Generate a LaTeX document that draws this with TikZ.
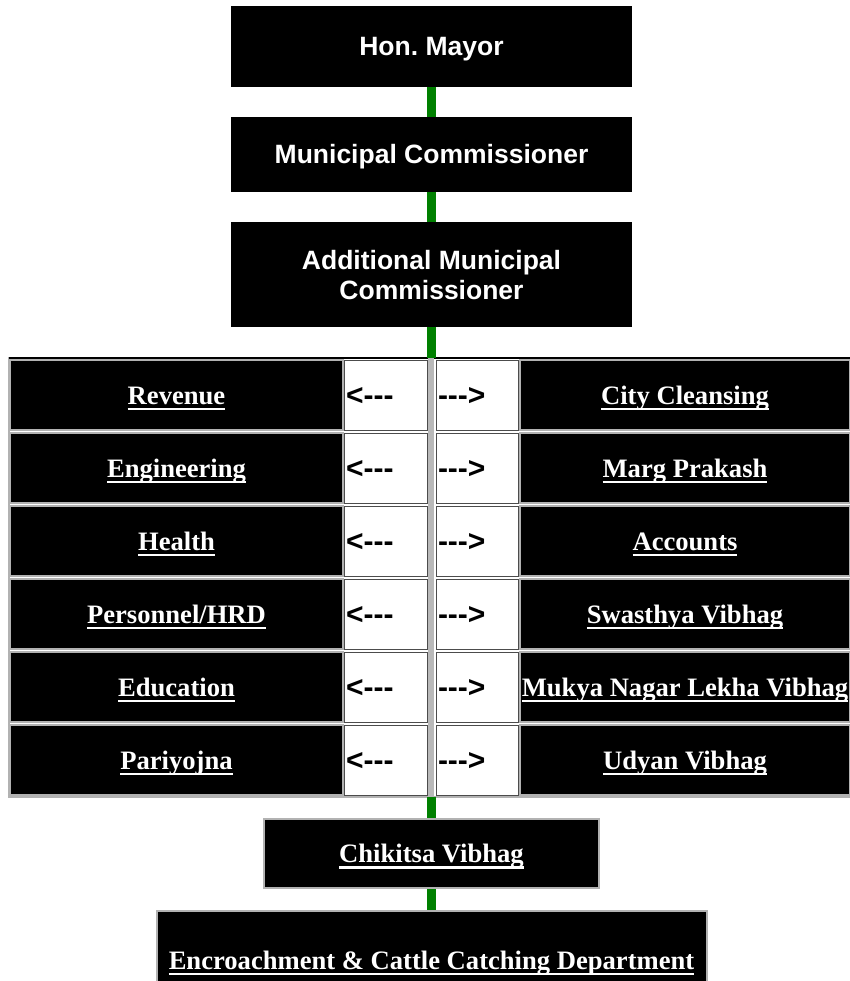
\documentclass[tikz,border=0pt]{standalone}
\usepackage{fontspec}
\setmainfont{Liberation Serif}
\setsansfont{Liberation Sans}
\definecolor{webgreen}{RGB}{0,128,0}
\newsavebox\ulbox
\newcommand\ulnk[1]{\sbox\ulbox{#1}\rlap{\rule[-6pt]{\wd\ulbox}{2.5pt}}\usebox\ulbox}
\newcommand\hy{\hbox{-}}

\begin{document}
\begin{tikzpicture}[x=1pt, y=-1pt,
  headbox/.style  = {fill=black, text=white, inner sep=0pt, minimum width=401pt,
                     font=\sffamily\bfseries\fontsize{26.5}{30}\selectfont,
                     text height=19pt, text depth=0pt},
  deptbox/.style  = {fill=black, text=white, draw=gray!60, line width=1.5pt,
                     inner sep=0pt, minimum height=70pt,
                     font=\bfseries\fontsize{26.6}{30}\selectfont,
                     text height=18pt, text depth=0pt},
  arrowbox/.style = {fill=white, draw=black!70, line width=1pt, inner sep=2pt,
                     minimum height=70pt, align=left,
                     font=\sffamily\bfseries\fontsize{30}{32}\selectfont,
                     text height=21pt, text depth=0pt},
  link/.style     = {webgreen, line width=9pt}]
\def\rowh{73}
  \useasboundingbox (0,0) rectangle (850,981);
  \clip (0,0) rectangle (850,981);

  \node[headbox, minimum height=81pt]  (mayor) at (431.5,46.5)  {Hon.\ Mayor};
  \node[headbox, minimum height=75pt]  (mc)    at (431.5,154.5) {Municipal Commissioner};
  \node[headbox, minimum height=105pt, align=center, text height=49pt]
                                       (amc)   at (431.5,274.5) {Additional Municipal\\Commissioner};

  % departments table
  \coordinate (tbltop) at (431.5,358);
  \coordinate (tblbot) at (431.5,797);
  \draw[gray!60, line width=1.5pt] (9,358) rectangle (851,797);
  \draw[line width=1.5pt] (9,358) -- (851,358);
  \fill[gray!55] (428,358) rectangle (434,797);
  \foreach \lft/\rgt [count=\i from 0] in {Revenue/City Cleansing,
      Engineering/Marg Prakash, Health/Accounts, {Personnel/HRD}/Swasthya Vibhag,
      Education/Mukya Nagar Lekha Vibhag, Pariyojna/Udyan Vibhag}{
    \node[deptbox, minimum width=333pt] (lf\i) at (176.5,{395+\rowh*\i}) {\ulnk{\lft}};
    \node[arrowbox, text width=79pt]    (la\i) at (385.5,{395+\rowh*\i}) {<\hy\hy\hy};
    \node[arrowbox, text width=78pt]    (ra\i) at (477,{395+\rowh*\i})   {\hy\hy\hy>};
    \node[deptbox, minimum width=330pt] (rt\i) at (685,{395+\rowh*\i})   {\ulnk{\rgt}};
  }

  \node[deptbox, line width=2pt, minimum width=335pt, minimum height=69pt]
    (chik) at (431.5,853.5) {\ulnk{Chikitsa Vibhag}};
  \node[deptbox, line width=2pt, minimum width=550pt, minimum height=98pt]
    (encr) at (431.5,960) {\ulnk{Encroachment \& Cattle Catching Department}};

  \draw[link] (mayor) -- (mc);
  \draw[link] (mc) -- (amc);
  \draw[link] (amc) -- (tbltop);
  \draw[link] (tblbot) -- (chik);
  \draw[link] (chik) -- (encr);
\end{tikzpicture}
\end{document}
